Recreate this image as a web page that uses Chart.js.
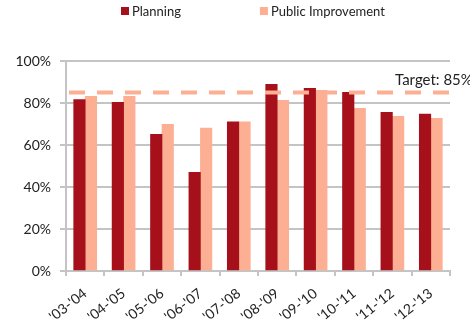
<!DOCTYPE html>
<html>
<head>
<meta charset="utf-8">
<script src="https://cdn.jsdelivr.net/npm/chart.js@4"></script>
<style>
  html, body { margin: 0; padding: 0; background: #fff; }
  #wrap { width: 470px; height: 321px; }
</style>
</head>
<body>
<div id="wrap"><canvas id="chart"></canvas></div>
<script>
const years = ["'03-'04", "'04-'05", "'05-'06", "'06-'07", "'07-'08", "'08-'09", "'09-'10", "'10-'11", "'11-'12", "'12-'13"]
const planning = [81.6, 80.3, 65.1, 47, 71, 88.9, 87, 85.1, 75.6, 74.7]
const publicImprovement = [83.2, 83.2, 69.9, 68, 71, 81.3, 86, 77.5, 73.7, 72.7]
const target = 85
const yTicks = [0, 20, 40, 60, 80, 100]

const FONT = 'Lato, "Open Sans", sans-serif'
const GRID = '#c4c4c4'
const DARK_RED = '#a6101a'
const SALMON = '#fcaf93'

// legend across the top, drawn by hand so the gap between items can be wide
const topLegend = {
  id: 'topLegend',
  afterDraw(chart) {
    const ctx = chart.ctx
    ctx.save()
    ctx.font = '13px ' + FONT
    ctx.textBaseline = 'middle'
    let x = 121
    chart.data.datasets.filter(d => d.type === 'bar').forEach(d => {
      ctx.fillStyle = d.backgroundColor
      ctx.fillRect(x, 7, 8, 8)
      ctx.fillStyle = '#222'
      ctx.fillText(d.label, x + 11, 12)
      x += 11 + ctx.measureText(d.label).width + 79
    })
    ctx.restore()
  }
}

// "Target: 85%" sits just above the dashed line at the right edge
const targetLabel = {
  id: 'targetLabel',
  afterDraw(chart) {
    const ctx = chart.ctx
    const y = chart.scales.y.getPixelForValue(target)
    ctx.save()
    ctx.font = '15px ' + FONT
    ctx.fillStyle = '#222'
    ctx.textBaseline = 'alphabetic'
    ctx.fillText('Target: ' + target + '%', 395, y - 8)
    ctx.restore()
  }
}

const barStyle = { type: 'bar', barThickness: 11.5, order: 1 }

new Chart(document.getElementById('chart'), {
  data: {
    labels: years,
    datasets: [
      {
        type: 'line',
        label: 'Target',
        data: years.map(() => target),
        xAxisID: 'x2',
        borderColor: SALMON,
        borderWidth: 4,
        borderDash: [16, 12],
        borderDashOffset: -3,
        pointRadius: 0,
        fill: false,
        order: 0
      },
      { ...barStyle, label: 'Planning', data: planning, backgroundColor: DARK_RED },
      { ...barStyle, label: 'Public Improvement', data: publicImprovement, backgroundColor: SALMON }
    ]
  },
  options: {
    responsive: true,
    maintainAspectRatio: false,
    animation: false,
    layout: { padding: { top: 61, right: 20, left: 0, bottom: 0 } },
    plugins: {
      legend: { display: false },
      tooltip: { enabled: false }
    },
    scales: {
      x: {
        offset: true,
        afterFit: s => { s.height = 50 },
        grid: { drawOnChartArea: false, color: GRID, lineWidth: 2, tickLength: 5 },
        border: { color: GRID, width: 2 },
        ticks: {
          autoSkip: false,
          minRotation: 38,
          maxRotation: 38,
          color: '#222',
          padding: 9,
          font: { family: FONT, size: 14 }
        }
      },
      x2: {
        type: 'category',
        labels: years,
        offset: false,
        display: false
      },
      y: {
        min: 0,
        max: 100,
        afterFit: s => { s.width = 66 },
        afterBuildTicks: s => { s.ticks = yTicks.map(v => ({ value: v })) },
        grid: { color: GRID, lineWidth: 2, tickLength: 6 },
        border: { color: GRID, width: 2 },
        ticks: {
          color: '#222',
          padding: 9,
          font: { family: FONT, size: 14 },
          callback: v => v + '%'
        }
      }
    }
  },
  plugins: [topLegend, targetLabel]
})
</script>
</body>
</html>
